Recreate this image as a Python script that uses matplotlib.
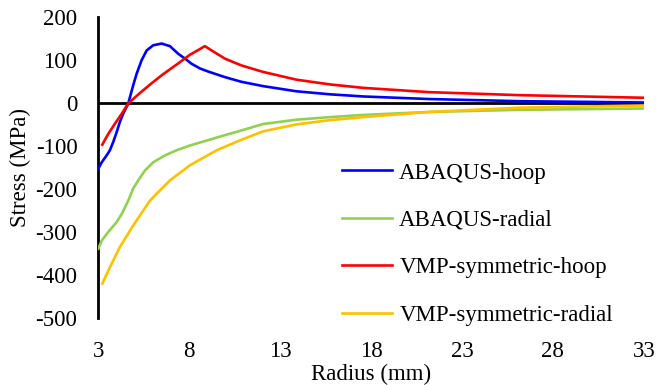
import matplotlib
matplotlib.use('Agg')
import matplotlib.pyplot as plt

plt.rcParams['font.family'] = ['Liberation Serif', 'DejaVu Serif']
plt.rcParams['axes.unicode_minus'] = False

# values (radius in mm, stress in MPa)
abaqus_hoop_r = [3.0, 3.19, 3.46, 3.64, 3.82, 4.01, 4.19, 4.37, 4.65, 4.92, 5.11,
                 5.38, 5.66, 6.02, 6.48, 6.94, 7.4, 7.77, 8.13, 8.6, 9.04, 9.96,
                 10.88, 12.07, 13.9, 15.74, 17.57, 21.2, 26.2, 33.0]
abaqus_hoop_s = [-152, -137, -121, -109, -90, -67, -43, -24, 0, 42, 69,
                 100, 123, 135, 139, 133, 115, 104, 92, 81, 74, 61,
                 50, 40, 28, 21, 16, 10, 5, 2]

abaqus_radial_r = [3.0, 3.19, 3.55, 4.01, 4.29, 4.65, 4.92, 5.2, 5.57, 6.02, 6.67,
                   7.31, 8.04, 9.0, 9.87, 10.79, 12.07, 13.9, 15.74, 17.57, 21.2,
                   26.2, 33.0]
abaqus_radial_s = [-338, -319, -299, -276, -257, -226, -198, -179, -156, -137, -121,
                   -109, -98, -86, -75, -64, -48, -38, -32, -27, -20,
                   -15, -12]

vmp_hoop_r = [3.22, 3.55, 3.92, 4.29, 4.65, 5.29, 5.57, 6.0, 6.48, 7.0, 7.4,
              8.04, 8.5, 8.86, 9.23, 9.96, 10.88, 12.07, 13.9, 15.74, 17.57,
              21.2, 26.2, 33.0]
vmp_hoop_s = [-96, -71, -47, -24, 0, 24, 34, 49, 65, 81, 93,
              113, 124, 133, 123, 104, 88, 73, 55, 44, 36,
              26, 19, 13]

vmp_radial_r = [3.22, 3.64, 4.19, 4.92, 5.84, 6.94, 8.04, 9.51, 10.79, 12.07,
                13.9, 15.74, 17.57, 21.2, 26.2, 33.0]
vmp_radial_s = [-419, -381, -334, -284, -226, -179, -144, -109, -86, -65,
                -49, -39, -32, -20, -10, -5]

x_ticks = [3, 8, 13, 18, 23, 28, 33]
y_ticks = [-500, -400, -300, -200, -100, 0, 100, 200]

fs = 16.5
lw = 1.9

fig = plt.figure(figsize=(6.57, 3.85), dpi=100)
ax = fig.add_axes([0.1496, 0.173, 0.8304, 0.782])

ax.axhline(0, color='black', lw=2.0, zorder=1)
ax.plot(abaqus_hoop_r, abaqus_hoop_s, c='#0000FF', lw=lw, label='ABAQUS-hoop', zorder=3)
ax.plot(abaqus_radial_r, abaqus_radial_s, c='#92D050', lw=lw, label='ABAQUS-radial', zorder=3)
ax.plot(vmp_hoop_r, vmp_hoop_s, c='#FF0000', lw=lw, label='VMP-symmetric-hoop', zorder=3)
ax.plot(vmp_radial_r, vmp_radial_s, c='#FFC000', lw=lw, label='VMP-symmetric-radial', zorder=3)

ax.set_xlim(3, 33)
ax.set_ylim(-500, 200)
ax.set_xticks(x_ticks)
ax.set_yticks(y_ticks)
for s in ['top', 'right', 'bottom']:
    ax.spines[s].set_visible(False)
ax.spines['left'].set_linewidth(2.0)
ax.tick_params(axis='both', length=0, labelsize=fs)
ax.tick_params(axis='x', pad=16)
ax.tick_params(axis='y', pad=15)

ax.set_xlabel('Radius (mm)', fontsize=fs, labelpad=1.5)
ax.set_ylabel('Stress (MPa)', fontsize=fs, labelpad=3)

ax.legend(loc='upper left', bbox_to_anchor=(0.5205, 0.578), bbox_transform=fig.transFigure,
          frameon=False, fontsize=fs, handlelength=2.2, handletextpad=0.3,
          labelspacing=1.15, borderaxespad=0, borderpad=0)

fig.savefig('out.png', dpi=100)
